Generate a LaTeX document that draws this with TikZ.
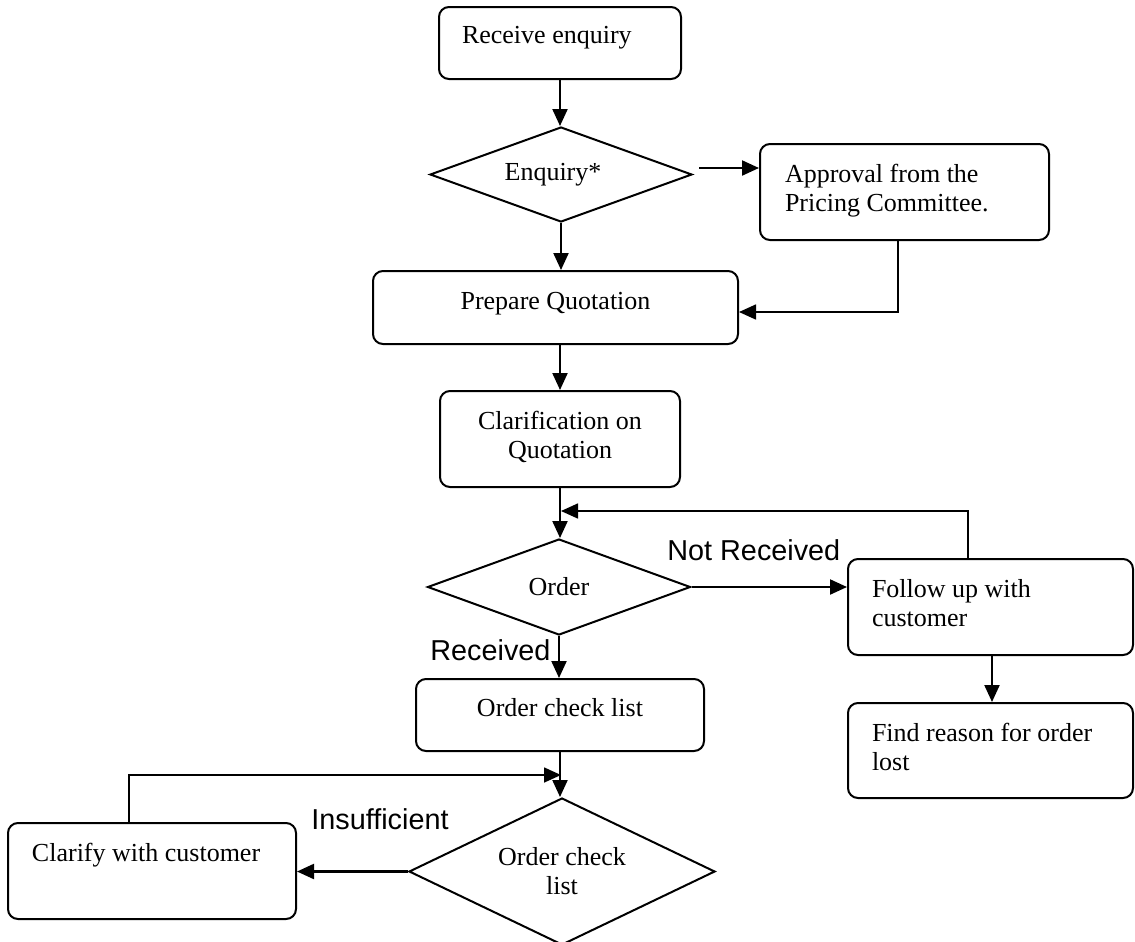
\documentclass[tikz,border=0pt]{standalone}
\usepackage{fontspec}
\setmainfont{Liberation Serif}
\newfontfamily\arialfont{Liberation Sans}
\usetikzlibrary{shapes.geometric,arrows.meta}
\newcommand{\boxtxt}[5]{\parbox[c][#2][t]{#1}{#3\rule{0pt}{#4}#5}}
\begin{document}
\begin{tikzpicture}[x=0.5pt,y=-0.5pt,
  box/.style={draw,line width=1pt,rounded corners=5pt,inner sep=0pt,font=\fontsize{13}{14.5}\selectfont},
  dia/.style={draw,line width=1pt,diamond,inner sep=0pt,align=center,font=\fontsize{13}{14.5}\selectfont},
  arr/.style={-{Triangle[length=8.5pt,width=7.5pt]},line width=1.1pt},
  conn/.style={line width=0.8pt},
  lbl/.style={font=\arialfont\fontsize{14.4}{17}\selectfont,inner sep=0pt}]
\path[use as bounding box,fill=white] (0,0) rectangle (1135,942);

% nodes
\node[box] (rec) at (560,43) {\boxtxt{121pt}{36pt}{\raggedright\leftskip=11.5pt}{18pt}{Receive enquiry}};
\node[dia,aspect=2.76,minimum width=131pt,minimum height=47.5pt] (enq) at (561,174.5) {\hspace*{-8pt}Enquiry*};
\node[box] (app) at (904.5,192) {\boxtxt{144.5pt}{48pt}{\raggedright\leftskip=12.5pt}{19.35pt}{Approval from the\\Pricing Committee.}};
\node[box] (prep) at (555.5,307.5) {\boxtxt{182.5pt}{36.5pt}{\centering}{19pt}{Prepare Quotation}};
\node[box] (clar) at (560,439) {\boxtxt{120pt}{48pt}{\centering}{19pt}{Clarification on\\Quotation}};
\node[dia,aspect=2.74,minimum width=131.5pt,minimum height=48pt] (ord) at (559,587) {Order};
\node[box] (fol) at (990.5,607) {\boxtxt{142.5pt}{48pt}{\raggedright\leftskip=12pt}{19pt}{Follow up with\\customer}};
\node[box] (fin) at (990.5,750.5) {\boxtxt{142.5pt}{47.5pt}{\raggedright\leftskip=12pt}{19pt}{Find reason for order\\lost}};
\node[box] (ocl) at (560,715) {\boxtxt{144pt}{36pt}{\centering}{18.5pt}{Order check list}};
\node[dia,aspect=2.08,minimum width=153pt,minimum height=73.5pt] (ocd) at (562,871.5) {Order check\\list};
\node[box] (cla) at (152,871) {\boxtxt{144pt}{48pt}{\raggedright\leftskip=12pt}{19pt}{Clarify with customer}};

% labels
\node[lbl,anchor=base west] (nrl) at (667,560.7) {Not Received};
\node[lbl,anchor=base west] (rcl) at (430,660.7) {Received};
\node[lbl,anchor=base west] (isl) at (311,829) {Insufficient};

% junctions
\coordinate (j1) at (561,511);
\coordinate (j2) at (561,775);

% connectors
\draw[arr] (rec.south) -- (rec.south |- enq.north);
\draw[arr] ([xshift=3pt,yshift=3.25pt]enq.east) coordinate (ea) -- (ea -| app.west);
\draw[arr] (enq.south) -- (enq.south |- prep.north);
\draw[arr,conn] ([xshift=-3.25pt]app.south) |- ([yshift=-2.25pt]prep.east);
\draw[arr] (clar.north |- prep.south) -- (clar.north);
\draw[arr] (clar.south) -- (clar.south |- ord.north);
\draw[arr] (ord.east) -- (ord.east -| fol.west);
\draw[arr,conn] ([xshift=-11.25pt]fol.north) |- (j1);
\draw[arr] ([xshift=0.75pt]fol.south) coordinate (fs) -- (fs |- fin.north);
\draw[arr] (ord.south) -- (ord.south |- ocl.north);
\draw[arr] (ocl.south) -- (ocl.south |- ocd.north);
\draw[arr] (ocd.west) -- (ocd.west -| cla.east);
\draw[arr,conn] ([xshift=-11.5pt]cla.north) |- (j2);
\end{tikzpicture}
\end{document}
